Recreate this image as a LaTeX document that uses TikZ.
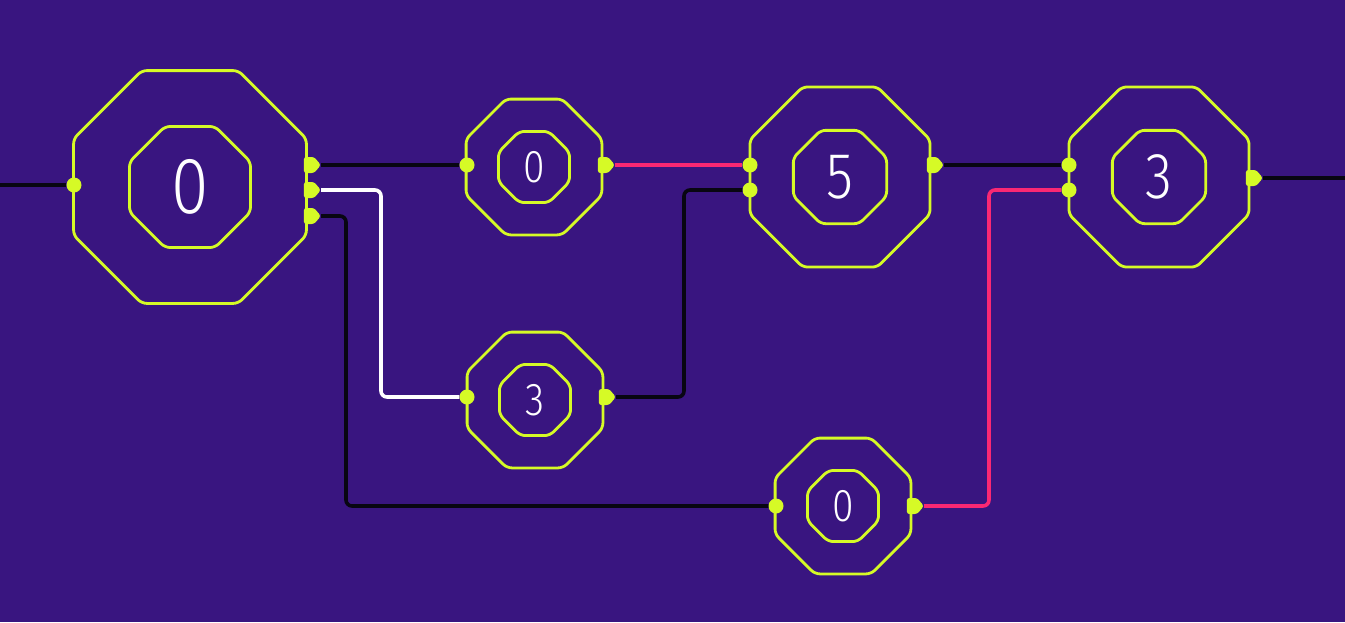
\documentclass[tikz,border=0pt]{standalone}
\usepackage{fontspec}
\setmainfont{Fira Sans}[UprightFont=* Light]
\newfontfamily\digitfont{Fira Sans}[UprightFont=* Light,FakeStretch=0.85]
\usepackage{xcolor}
\usetikzlibrary{shapes.geometric,shapes.symbols}
\definecolor{bgpurple}{RGB}{57,21,128}
\definecolor{lime}{RGB}{214,250,38}
\definecolor{hotpink}{RGB}{250,40,115}
\definecolor{wireblack}{RGB}{8,6,18}

\begin{document}
\begin{tikzpicture}[x=1pt,y=-1pt,
  oct/.style={regular polygon,regular polygon sides=8,draw=lime,line width=2.8pt,rounded corners=5pt,inner sep=0pt,text=white},
  inport/.style={circle,fill=lime,inner sep=0pt,minimum size=15pt},
  outport/.style={signal,signal to=east,signal pointer angle=100,fill=lime,inner sep=0pt,minimum width=17pt,minimum height=16pt,rounded corners=2.5pt},
  wire/.style={draw=wireblack,line width=3.6pt,rounded corners=6pt},
  bigdigit/.style={font=\digitfont\fontsize{80}{80}\selectfont},
  middigit/.style={font=\digitfont\fontsize{65}{65}\selectfont},
  smalldigit/.style={font=\digitfont\fontsize{46}{46}\selectfont}]
  \useasboundingbox (0,0) rectangle (1345,622);
  \fill[bgpurple] (0,0) rectangle (1345,622);

  % blocks
  \node (S) [oct,minimum size=252pt] at (190,187) {};
  \node (S_v) [oct,minimum size=131pt,bigdigit] at (S) {0};
  \node (A) [oct,minimum size=147pt] at (534,167) {};
  \node (A_v) [oct,minimum size=77pt,smalldigit] at (A) {0};
  \node (B) [oct,minimum size=195pt] at (840,177) {};
  \node (B_v) [oct,minimum size=101pt,middigit] at (B) {5};
  \node (C) [oct,minimum size=195pt] at (1159,177) {};
  \node (C_v) [oct,minimum size=101pt,middigit] at (C) {3};
  \node (D) [oct,minimum size=147pt] at (535,400) {};
  \node (D_v) [oct,minimum size=77pt,smalldigit] at (D) {3};
  \node (E) [oct,minimum size=147pt] at (843,506) {};
  \node (E_v) [oct,minimum size=77pt,smalldigit] at (E) {0};

  % ports
  \node (S_in) [inport] at (74,185) {};
  \node (S_o1) [outport] at (309,165) {};
  \node (S_o2) [outport] at (309,190) {};
  \node (S_o3) [outport] at (309,216) {};
  \node (A_in) [inport] at (467,165) {};
  \node (A_o) [outport] at (603,165) {};
  \node (B_i1) [inport] at (750,165) {};
  \node (B_i2) [inport] at (750,190) {};
  \node (B_o) [outport] at (932,165) {};
  \node (C_i1) [inport] at (1069,165) {};
  \node (C_i2) [inport] at (1069,190) {};
  \node (C_o) [outport] at (1251,178) {};
  \node (D_in) [inport] at (467,397) {};
  \node (D_o) [outport] at (604,397) {};
  \node (E_in) [inport] at (776,506) {};
  \node (E_o) [outport] at (912,506) {};
  \coordinate (src) at (0,185);
  \coordinate (sink) at (1345,178);

  % wires
  \path (src) edge[wire] (S_in);
  \path (S_o1) edge[wire] (A_in);
  \path (A_o) edge[wire,draw=hotpink] (B_i1);
  \path (B_o) edge[wire] (C_i1);
  \path (C_o) edge[wire] (sink);
  \draw[wire,draw=white] (S_o2) -- ++(72,0) |- (D_in);
  \draw[wire] (S_o3) -- ++(37,0) |- (E_in);
  \draw[wire] (D_o) -- ++(80,0) |- (B_i2);
  \draw[wire,draw=hotpink] (E_o) -- ++(77,0) |- (C_i2);
\end{tikzpicture}
\end{document}
